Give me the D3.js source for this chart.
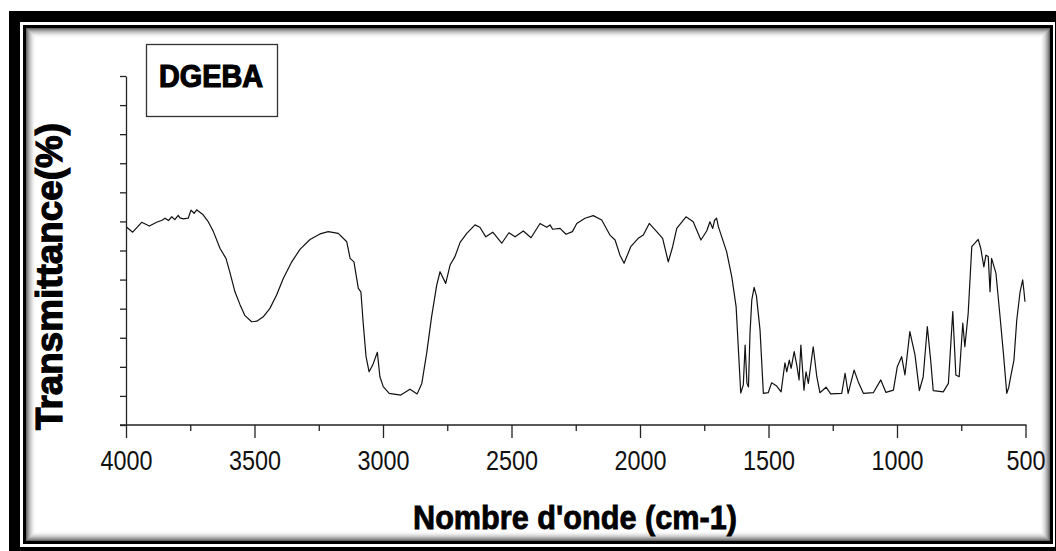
<!DOCTYPE html>
<meta charset="utf-8">
<script src="https://d3js.org/d3.v7.min.js"></script>
<style type="text/css">
body { margin: 0; background: #fff; }
.courbe {
    fill: none;
    stroke: #111;
    stroke-width: 1.2;
    stroke-linejoin: round;
}
.axe path, .axe line { stroke: #222; stroke-width: 1.3; }
.axe text { font-family: "Liberation Sans", Arial, sans-serif; fill: #111; }
.titre { font-family: "Liberation Sans", Arial, sans-serif; font-weight: bold; fill: #000; stroke: #000; }
</style>
<body>
<div id="canvas"></div>
<script>

// spectre IR du DGEBA
var nombreOnde = [3997, 3974, 3939, 3909, 3881, 3860, 3848, 3835, 3822, 3810, 3797, 3790, 3777, 3758, 3747, 3735, 3725, 3719, 3702, 3680, 3660, 3634, 3611, 3595, 3576, 3556,
    3537, 3511, 3491, 3466, 3440, 3414, 3388, 3355, 3323, 3284, 3245, 3213, 3174, 3141, 3128, 3113, 3096, 3086, 3077, 3066,
    3054, 3040, 3022, 3012, 2999, 2976, 2931, 2895, 2867, 2849, 2830, 2811, 2791, 2778, 2756, 2739, 2720, 2700, 2674, 2642,
    2623, 2600, 2573, 2538, 2510, 2486, 2454, 2424, 2389, 2363, 2350, 2340, 2311, 2288, 2263, 2246, 2214, 2182, 2149, 2117,
    2097, 2078, 2062, 2036, 2007, 1987, 1964, 1935, 1912, 1890, 1873, 1857, 1821, 1793, 1763, 1740, 1728, 1717, 1710, 1702, 1695, 1682,
    1663, 1643, 1626, 1617, 1608, 1598, 1591, 1584, 1578, 1572, 1565, 1556, 1547, 1533, 1520, 1501, 1488, 1468, 1451, 1436,
    1429, 1419, 1412, 1400, 1390, 1381, 1374, 1362, 1354, 1345, 1326, 1312, 1300, 1276, 1258, 1215, 1202, 1190, 1167, 1151,
    1131, 1092, 1063, 1043, 1014, 999, 982, 969, 950, 930, 913, 898, 882, 869, 859, 820, 800, 783, 771, 758,
    744, 736, 723, 709, 684, 674, 662, 654, 645, 638, 632, 615, 599, 586, 573, 565, 560, 545, 534, 521, 511, 506, 502];

var transmittance = [68.0, 66.3, 69.7, 68.4, 69.7, 70.4, 71.1, 70.3, 71.6, 70.6, 72.1, 71.2, 70.9, 71.1, 73.9, 72.8, 74.0, 73.6, 72.5, 69.9, 66.5, 60.7, 57.3, 52.2, 45.8, 41.3,
    37.6, 35.5, 35.7, 37.2, 40.1, 44.7, 50.4, 56.1, 60.4, 63.8, 65.7, 66.5, 65.9, 63.0, 57.3, 56.1, 47.0, 45.8, 35.0, 23.5,
    18.3, 20.6, 25.0, 16.6, 13.2, 10.9, 10.3, 12.3, 10.7, 14.3, 24.7, 37.2, 48.1, 52.7, 48.7, 55.0, 57.9, 62.8, 65.9, 68.8,
    68.0, 64.7, 66.3, 62.5, 66.1, 64.7, 66.7, 64.4, 69.3, 68.0, 68.8, 67.3, 67.6, 65.6, 66.5, 69.3, 71.1, 72.0, 70.5, 65.3,
    63.6, 58.4, 55.6, 61.3, 64.2, 65.3, 69.3, 66.5, 64.2, 56.1, 61.3, 67.6, 71.6, 69.9, 63.6, 66.8, 69.9, 67.6, 70.4, 71.1, 68.2, 64.7,
    59.6, 51.0, 40.7, 25.8, 11.0, 13.8, 27.5, 14.4, 13.1, 31.5, 43.0, 47.3, 44.4, 32.7, 10.9, 11.1, 14.5, 13.4, 11.4, 21.4,
    18.3, 22.3, 19.5, 25.2, 20.6, 15.5, 27.5, 12.0, 18.3, 14.3, 26.9, 16.6, 11.1, 13.0, 10.7, 10.9, 17.8, 10.9, 18.9, 14.9,
    10.9, 11.1, 15.5, 11.2, 12.0, 20.0, 23.5, 17.2, 32.1, 24.1, 11.8, 16.6, 33.8, 22.3, 11.8, 11.4, 14.3, 39.0, 17.2, 16.6,
    35.0, 26.9, 38.4, 61.3, 63.8, 60.7, 54.4, 58.4, 57.9, 45.8, 57.3, 52.2, 37.2, 24.7, 10.9, 13.0, 15.5, 22.3, 36.1, 45.8, 49.9, 46.0, 42.4];

var ticksMajeurs = [4000, 3500, 3000, 2500, 2000, 1500, 1000, 500];
var ticksMineurs = [3750, 3250, 2750, 2250, 1750, 1250, 750];
var ticksY = d3.range(0, 121, 10);
var titreX = "Nombre d'onde (cm-1)";
var titreY = "Transmittance(%)";
var etiquette = "DGEBA";

var width = 1056;
var height = 551;

var svg = d3.select('#canvas')
    .append("svg")
    .attr('width', width)
    .attr('height', height)
    .style("display", "block")
    .style("background", "#fff");

// cadre double avec ombre interieure ---------------------------------
svg.append("rect")
    .attr("x", 14.5).attr("y", 16.5)
    .attr("width", 1046).attr("height", 536)
    .attr("fill", "none").attr("stroke", "#000").attr("stroke-width", 11);

for (var i = 11; i >= 1; i--) {
    svg.append("rect")
        .attr("x", 24.5 + i).attr("y", 26.5 + i)
        .attr("width", 1027 - 2 * i).attr("height", 516 - 2 * i)
        .attr("fill", "none")
        .attr("stroke", "#000")
        .attr("stroke-opacity", 0.85 * Math.pow(1 - i / 12, 2))
        .attr("stroke-width", 1);
}
svg.append("rect")
    .attr("x", 24.5).attr("y", 26.5)
    .attr("width", 1027).attr("height", 516)
    .attr("fill", "none").attr("stroke", "#000").attr("stroke-width", 3);

// echelles -----------------------------------------------------------
var x = d3.scaleLinear()
    .domain([4000, 500])
    .range([126, 1025.5]);

var y = d3.scaleLinear()
    .domain([0, 120])
    .range([425, 76]);

// axe X : ticks majeurs + mineurs
var gx = svg.append("g")
    .attr("class", "axe")
    .attr("transform", "translate(0,425)")
    .call(d3.axisBottom(x).tickValues(ticksMajeurs).tickSize(13).tickSizeOuter(0).tickFormat(d3.format("d")));

gx.select(".domain").attr("d", "M120,0H1026.5");

gx.selectAll("text")
    .attr("y", 45)
    .attr("dy", 0)
    .style("font-size", "28px")
    .attr("textLength", function(d) { return String(d).length * 13; })
    .attr("lengthAdjust", "spacingAndGlyphs");

svg.append("g")
    .attr("class", "axe")
    .attr("transform", "translate(0,425)")
    .call(d3.axisBottom(x).tickValues(ticksMineurs).tickSize(6).tickFormat(""))
    .select(".domain").remove();

// axe Y sans etiquettes
svg.append("g")
    .attr("class", "axe")
    .attr("transform", "translate(126,0)")
    .call(d3.axisLeft(y).tickValues(ticksY).tickSize(6).tickSizeOuter(0).tickFormat(""));

// courbe -------------------------------------------------------------
var data = nombreOnde.map(function(d, i) { return { w: d, t: transmittance[i] }; });

var line = d3.line()
    .x(function(d) { return x(d.w); })
    .y(function(d) { return y(d.t); });

svg.append("path")
    .attr("d", line(data))
    .attr("class", "courbe");

// titres -------------------------------------------------------------
svg.append("text")
    .attr("class", "titre")
    .attr("x", 575)
    .attr("y", 529)
    .attr("text-anchor", "middle")
    .attr("textLength", 324)
    .attr("lengthAdjust", "spacingAndGlyphs")
    .style("stroke-width", 0.8)
    .style("font-size", "33px")
    .text(titreX);

svg.append("text")
    .attr("class", "titre")
    .attr("transform", "translate(62,276.5) rotate(-90)")
    .attr("text-anchor", "middle")
    .attr("textLength", 307)
    .attr("lengthAdjust", "spacingAndGlyphs")
    .style("stroke-width", 1.2)
    .style("font-size", "37px")
    .text(titreY);

// boite DGEBA
svg.append("rect")
    .attr("x", 146.5).attr("y", 44.5)
    .attr("width", 131).attr("height", 72)
    .attr("fill", "#fff")
    .attr("stroke", "#333")
    .attr("stroke-width", 1.3);

svg.append("text")
    .attr("class", "titre")
    .attr("x", 211)
    .attr("y", 87)
    .attr("text-anchor", "middle")
    .attr("textLength", 104)
    .attr("lengthAdjust", "spacingAndGlyphs")
    .style("stroke-width", 1.2)
    .style("font-size", "31px")
    .text(etiquette);

</script>
</body>
